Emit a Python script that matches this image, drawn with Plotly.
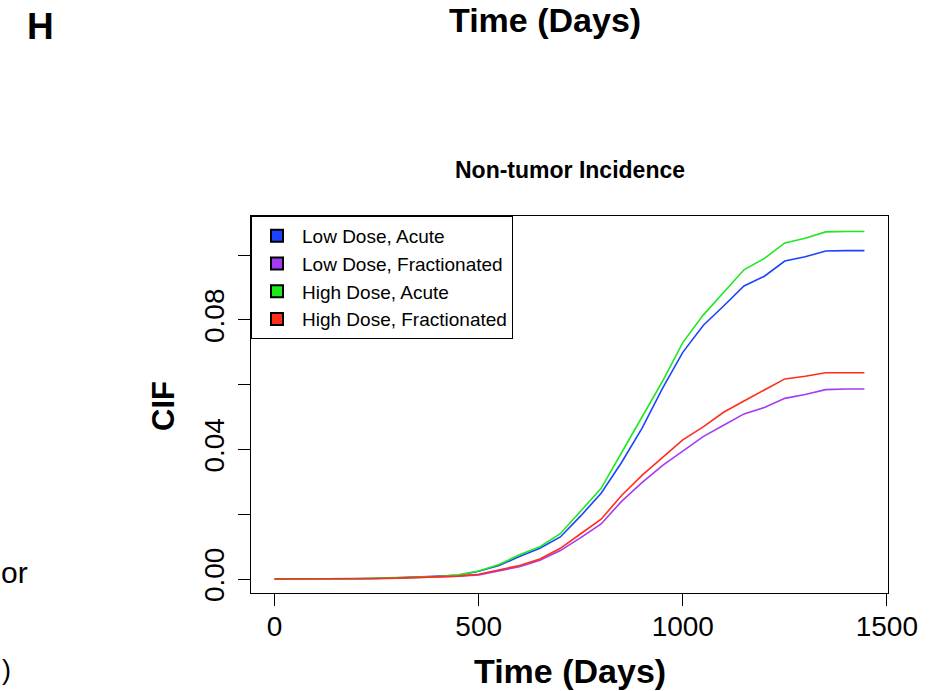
import plotly.graph_objects as go

# ---- data ----
days = [0, 100, 200, 250, 300, 350, 400, 450, 500, 550, 600, 650, 700, 750, 800,
        850, 900, 950, 1000, 1050, 1100, 1150, 1200, 1250, 1300, 1350, 1400, 1445]

low_acute = [0, 0, 0.0001, 0.0002, 0.0004, 0.0006, 0.0008, 0.0012, 0.0024, 0.0042,
             0.0070, 0.0095, 0.0130, 0.0195, 0.0265, 0.0360, 0.0465, 0.0588, 0.0700,
             0.0783, 0.0843, 0.0905, 0.0935, 0.0982, 0.0995, 0.1013, 0.1014, 0.1014]
low_frac = [0, 0, 0.0001, 0.0002, 0.0003, 0.0005, 0.0006, 0.0009, 0.0013, 0.0025,
            0.0038, 0.0058, 0.0088, 0.0128, 0.0170, 0.0240, 0.0298, 0.0350, 0.0395,
            0.0440, 0.0475, 0.0510, 0.0530, 0.0558, 0.0570, 0.0585, 0.0587, 0.0587]
high_acute = [0, 0, 0.0001, 0.0003, 0.0004, 0.0006, 0.0008, 0.0013, 0.0025, 0.0045,
              0.0075, 0.0100, 0.0140, 0.0210, 0.0280, 0.0390, 0.0500, 0.0610, 0.0730,
              0.0815, 0.0885, 0.0955, 0.0990, 0.1038, 0.1052, 0.1072, 0.1073, 0.1073]
high_frac = [0, 0, 0.0001, 0.0002, 0.0003, 0.0005, 0.0006, 0.0009, 0.0015, 0.0028,
             0.0042, 0.0062, 0.0095, 0.0140, 0.0185, 0.0258, 0.0320, 0.0375, 0.0430,
             0.0470, 0.0515, 0.0550, 0.0585, 0.0618, 0.0626, 0.0637, 0.0637, 0.0637]

series_names = ["Low Dose, Acute", "Low Dose, Fractionated", "High Dose, Acute", "High Dose, Fractionated"]
series_values = [low_acute, low_frac, high_acute, high_frac]
series_colors = ["#1a44ff", "#a33cf0", "#1ee81e", "#ff2e1a"]

x_ticks = [0, 500, 1000, 1500]
y_ticks = [0, 0.02, 0.04, 0.06, 0.08, 0.10]
y_ticktext = ["0.00", "", "0.04", "", "0.08", ""]

FONT = "Liberation Sans, Arial, Helvetica, sans-serif"
W, H = 930, 691
L, R, T, B = 251, 888, 216, 593

fig = go.Figure()
for name, vals, col in zip(series_names, series_values, series_colors):
    fig.add_trace(go.Scatter(x=days, y=vals, mode="lines", line=dict(color=col, width=1.6),
                             showlegend=False, hoverinfo="skip"))
for name, col in zip(series_names, series_colors):
    fig.add_trace(go.Scatter(x=[None], y=[None], mode="markers", name=name,
                             marker=dict(symbol="square", size=13, color=col,
                                         line=dict(color="black", width=1))))

def px(xp):
    return (xp - L) / (R - L)

def py(yp):
    return (B - yp) / (B - T)

ann = [
    dict(text="<b>H</b>", x=px(40), y=py(26), font=dict(size=37)),
    dict(text="<b>Time (Days)</b>", x=px(545), y=py(20), font=dict(size=34)),
    dict(text="<b>Non-tumor Incidence</b>", x=px(570), y=py(170), font=dict(size=23)),
    dict(text="<b>Time (Days)</b>", x=px(570), y=py(671), font=dict(size=34)),
    dict(text="<b>CIF</b>", x=px(163), y=py(406), font=dict(size=31), textangle=-90),
    dict(text="or", x=px(29), y=py(572), font=dict(size=30), xanchor="right"),
    dict(text=")", x=px(1), y=py(670), font=dict(size=27), xanchor="left"),
]
for a in ann:
    a.update(xref="paper", yref="paper", showarrow=False, borderpad=0)
    a.setdefault("xanchor", "center")
    a["yanchor"] = "middle"
    a["font"].update(family=FONT, color="black")

fig.update_layout(
    width=W, height=H,
    margin=dict(l=L, r=W - R, t=T, b=H - B, pad=0),
    paper_bgcolor="white", plot_bgcolor="white",
    font=dict(family=FONT, color="black"),
    annotations=ann,
    legend=dict(x=0, y=1, xanchor="left", yanchor="top", bgcolor="white",
                bordercolor="black", borderwidth=1, font=dict(size=19, family=FONT),
                itemsizing="constant", itemwidth=40, tracegroupgap=0),
    xaxis=dict(range=[-57.8, 1502.8], tickvals=x_ticks, ticks="outside", ticklen=12,
               tickcolor="black", tickfont=dict(size=28), showline=True, mirror=True,
               linecolor="black", linewidth=1, showgrid=False, zeroline=False,
               ticklabelstandoff=-4),
    yaxis=dict(range=[-0.0043, 0.1121], tickvals=y_ticks, ticktext=y_ticktext,
               ticks="outside", ticklen=12, tickcolor="black", tickfont=dict(size=28),
               tickangle=-90, showline=True, mirror=True, linecolor="black", linewidth=1,
               showgrid=False, zeroline=False, ticklabelstandoff=3),
)

fig.write_html("out.html")
